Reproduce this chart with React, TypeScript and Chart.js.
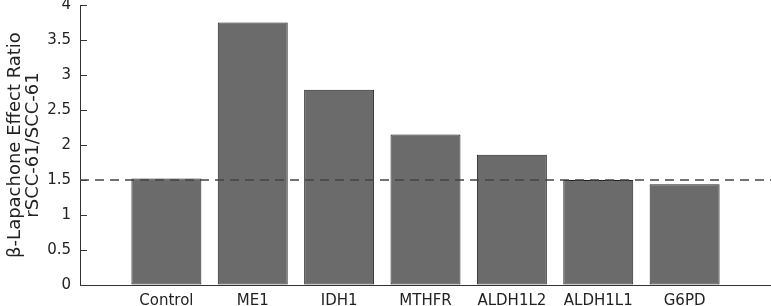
import React, { useEffect, useRef } from "react";
import { Chart, registerables } from "chart.js";

Chart.register(...registerables);

const categories = ["Control", "ME1", "IDH1", "MTHFR", "ALDH1L2", "ALDH1L1", "G6PD"];
const ratios = [1.52, 3.75, 2.79, 2.15, 1.86, 1.5, 1.44];
const thresholdValue = 1.5;
const yTicks = [0, 0.5, 1, 1.5, 2, 2.5, 3, 3.5, 4];
const yTitle = ["β-Lapachone Effect Ratio", "rSCC-61/SCC-61"];

const FONT = "'DejaVu Sans', sans-serif";

export default function App() {
  const ref = useRef<HTMLCanvasElement>(null);
  useEffect(() => {
    document.body.style.margin = "0";
    const chart = new Chart(ref.current!, {
      type: "bar",
      data: {
        datasets: [
          {
            type: "bar",
            data: ratios.map((v, i) => ({ x: i + 1, y: v })),
            backgroundColor: "#6b6b6b",
            borderColor: "#222",
            borderWidth: 1,
            borderSkipped: false,
            barPercentage: 0.81,
            categoryPercentage: 1,
            order: 2,
          } as any,
          {
            type: "line",
            data: [
              { x: 0, y: thresholdValue },
              { x: categories.length + 1, y: thresholdValue },
            ],
            borderColor: "#444",
            borderWidth: 1.3,
            borderDash: [9, 6],
            pointRadius: 0,
            fill: false,
            order: 1,
          } as any,
        ],
      },
      options: {
        animation: false,
        responsive: false,
        maintainAspectRatio: false,
        layout: { padding: { top: 5, right: 0, left: 0, bottom: 0 } },
        plugins: { legend: { display: false }, tooltip: { enabled: false } },
        scales: {
          x: {
            type: "linear",
            min: 0,
            max: categories.length + 1,
            offset: false,
            grid: { display: false, drawTicks: false },
            border: { display: true, color: "#333", width: 1 },
            ticks: {
              stepSize: 1,
              autoSkip: false,
              maxRotation: 0,
              padding: 7,
              color: "#222",
              font: { family: FONT, size: 15 },
              callback: (v: any) => categories[Number(v) - 1] ?? "",
            },
            afterFit: (s: any) => {
              s.height = 21;
              s.paddingLeft = 0;
              s.paddingRight = 0;
            },
          },
          y: {
            min: 0,
            max: 4,
            grid: {
              display: true,
              drawOnChartArea: false,
              drawTicks: true,
              tickLength: -7,
              color: "#333",
              lineWidth: 1,
            },
            border: { display: true, color: "#333", width: 1 },
            afterBuildTicks: (s: any) => {
              s.ticks = yTicks.map((v) => ({ value: v }));
            },
            ticks: {
              padding: 16,
              color: "#222",
              font: { family: FONT, size: 15 },
              callback: (v: any) => String(v),
            },
            title: {
              display: true,
              text: yTitle,
              color: "#222",
              font: { family: FONT, size: 18, lineHeight: 1.0 },
              padding: { top: 6, bottom: 0 },
            },
            afterFit: (s: any) => {
              s.width = 80;
              s.paddingTop = 0;
              s.paddingBottom = 0;
            },
          },
        },
      },
    });
    return () => chart.destroy();
  }, []);
  return <canvas ref={ref} width={771} height={306} style={{ display: "block" }} />;
}
